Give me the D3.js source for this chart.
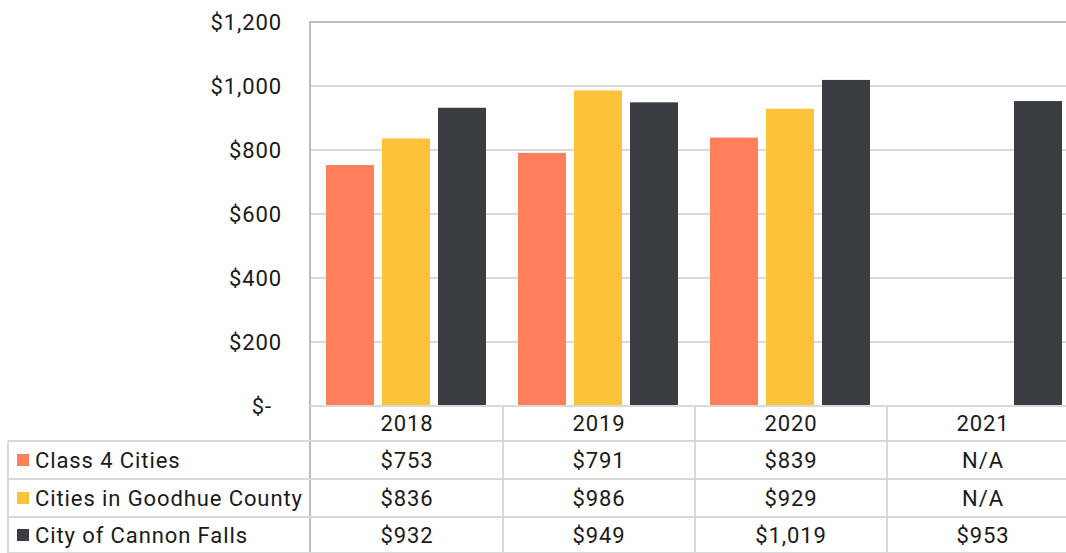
<!DOCTYPE html>
<html><head><meta charset="utf-8">
<script src="https://cdn.jsdelivr.net/npm/d3@7"></script>
<style>body{margin:0;background:#fff}svg{display:block;font-family:Roboto,sans-serif}text{letter-spacing:0.9px}</style>
</head><body><svg id="c" width="1066" height="553"></svg>
<script>
const years = ["2018","2019","2020","2021"];
const seriesNames = ["Class 4 Cities","Cities in Goodhue County","City of Cannon Falls"];
const class4 = [753, 791, 839, null];
const goodhue = [836, 986, 929, null];
const cannon = [932, 949, 1019, 953];
const yTicks = [0,200,400,600,800,1000,1200];
const colors = ["#FF7F5C","#FFC23B","#3A3E43"];

(function(){
const values = [class4, goodhue, cannon];
const svg = d3.select("#c");
const plotLeft = 310, bandW = 192, plotTop = 22, base = 406;
const fs = 22;
const x = d3.scaleBand().domain(years).range([plotLeft, plotLeft + bandW*years.length]);
const y = d3.scaleLinear().domain([0,1200]).range([base, plotTop]);

// gridlines
svg.append("g").selectAll("line").data(yTicks.filter(d=>d>0)).join("line")
  .attr("x1", plotLeft).attr("x2", 1066)
  .attr("y1", d=>y(d)).attr("y2", d=>y(d))
  .attr("stroke", d=> d===1200 ? "#bdbdbd" : "#d9d9d9").attr("stroke-width", 2);

// y labels
const fmt = d => d===0 ? "$-" : "$" + d3.format(",")(d);
svg.append("g").selectAll("text").data(yTicks).join("text")
  .attr("x", d=> d===0 ? 272 : 282).attr("y", d=>y(d)).attr("dy","0.35em")
  .attr("text-anchor","end").attr("font-size", fs).attr("fill","#1a1a1a")
  .text(fmt);

// bars
const bw = 48;
seriesNames.forEach((s, si) => {
  svg.append("g").selectAll("rect").data(years.map((yr,i)=>({yr, v: values[si][i]})).filter(d=>d.v!=null)).join("rect")
    .attr("x", d => x(d.yr) + 16 + si*56)
    .attr("width", bw)
    .attr("y", d => y(d.v)).attr("height", d => base - y(d.v))
    .attr("fill", colors[si]);
});

// axis line
svg.append("line").attr("x1", plotLeft).attr("x2", plotLeft).attr("y1", plotTop-1).attr("y2", 553)
  .attr("stroke","#bdbdbd").attr("stroke-width",2);
svg.append("line").attr("x1", plotLeft).attr("x2", 1066).attr("y1", base).attr("y2", base)
  .attr("stroke","#d9d9d9").attr("stroke-width",2);

// table
const rowLines = [441, 479, 517, 553];
const tg = svg.append("g");
tg.selectAll("line.h").data(rowLines).join("line").attr("class","h")
  .attr("x1", 8).attr("x2", 1066).attr("y1", d=>d).attr("y2", d=>d)
  .attr("stroke","#d9d9d9").attr("stroke-width",2);
tg.append("line").attr("x1", 8).attr("x2", 8).attr("y1", 441).attr("y2", 553)
  .attr("stroke","#d9d9d9").attr("stroke-width",2);
tg.selectAll("line.v").data(years.slice(1)).join("line").attr("class","v")
  .attr("x1", d=>x(d)+1).attr("x2", d=>x(d)+1).attr("y1", base).attr("y2", 553)
  .attr("stroke","#d9d9d9").attr("stroke-width",2);

// header years
tg.selectAll("text.yr").data(years).join("text").attr("class","yr")
  .attr("x", d=>x(d)+bandW/2+1).attr("y", 423).attr("dy","0.35em")
  .attr("text-anchor","middle").attr("font-size",fs).attr("fill","#1a1a1a").text(d=>d);

const rowMid = [460, 498, 535];
seriesNames.forEach((s, si) => {
  tg.append("rect").attr("x", 17).attr("y", rowMid[si]-6).attr("width", 12).attr("height", 12).attr("fill", colors[si]);
  tg.append("text").attr("x", 35).attr("y", rowMid[si]).attr("dy","0.35em")
    .attr("font-size",fs).attr("fill","#1a1a1a").text(s);
  tg.selectAll("text.v"+si).data(years.map((yr,i)=>({yr, v: values[si][i]}))).join("text")
    .attr("class","v"+si)
    .attr("x", d=>x(d.yr)+bandW/2+1).attr("y", rowMid[si]).attr("dy","0.35em")
    .attr("text-anchor","middle").attr("font-size",fs).attr("fill","#1a1a1a")
    .text(d => d.v==null ? "N/A" : "$" + d3.format(",")(d.v));
});
})();
</script></body></html>
